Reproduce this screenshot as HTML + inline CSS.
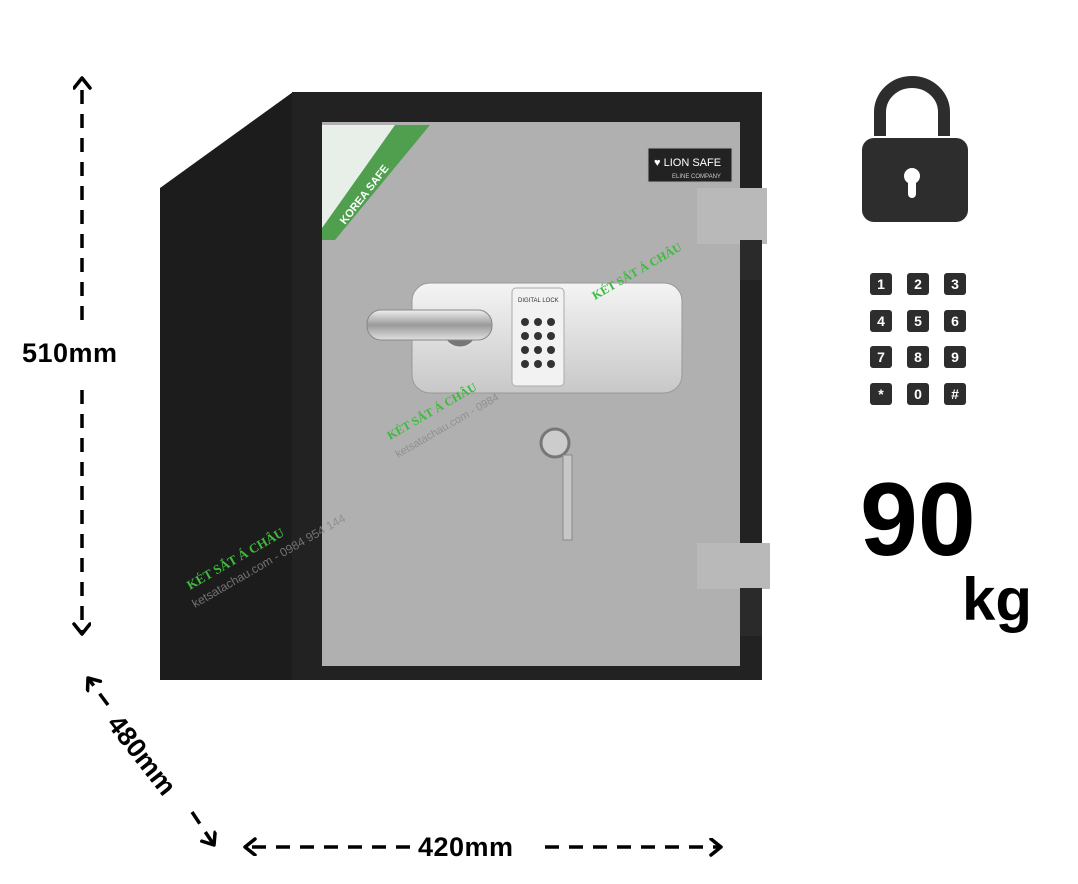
<!DOCTYPE html>
<html><head><meta charset="utf-8"><style>
html,body{margin:0;padding:0;background:#fff;}
svg{display:block;font-family:"Liberation Sans",sans-serif;}
</style></head><body>
<svg width="1078" height="884" viewBox="0 0 1078 884" xmlns="http://www.w3.org/2000/svg">
<defs>
<marker id="ah" markerWidth="20" markerHeight="20" refX="13" refY="9" orient="auto" markerUnits="userSpaceOnUse">
<path d="M3,1 L13,9 L3,17" fill="none" stroke="#000" stroke-width="3.5" stroke-linecap="round" stroke-linejoin="round"/>
</marker>
<linearGradient id="lk" x1="0" y1="0" x2="0" y2="1"><stop offset="0" stop-color="#f4f4f4"/><stop offset="1" stop-color="#c8c8c8"/></linearGradient>
<linearGradient id="hd" x1="0" y1="0" x2="0" y2="1"><stop offset="0" stop-color="#f0f0f0"/><stop offset="0.5" stop-color="#9a9a9a"/><stop offset="1" stop-color="#e0e0e0"/></linearGradient>
</defs>
<polygon points="160,188 293,92 293,680 160,680" fill="#1c1c1c"/>
<rect x="292" y="92" width="470" height="588" fill="#222"/>
<rect x="322" y="122" width="418" height="544" fill="#b0b0b0"/>
<polygon points="322,125 430,125 330,240 322,240" fill="#e8efe8"/>
<polygon points="395,125 430,125 335,240 322,240 322,228" fill="#4f9f4f"/>
<text x="0" y="0" transform="translate(345,225) rotate(-52)" font-size="11" font-weight="bold" fill="#fff">KOREA SAFE</text>
<rect x="648" y="148" width="84" height="34" fill="#222" stroke="#aaa"/>
<text x="654" y="166" font-size="11" fill="#fff">♥ LION SAFE</text>
<text x="672" y="178" font-size="6" fill="#ccc">ELINE COMPANY</text>
<rect x="697" y="188" width="70" height="56" fill="#b9b9b9"/>
<rect x="740" y="240" width="22" height="40" fill="#2a2a2a"/>
<rect x="697" y="543" width="73" height="46" fill="#b9b9b9"/>
<rect x="740" y="588" width="22" height="48" fill="#2a2a2a"/>
<rect x="412" y="283" width="270" height="110" rx="18" fill="url(#lk)" stroke="#999"/>
<rect x="512" y="288" width="52" height="98" rx="4" fill="#f2f2f2" stroke="#aaa"/>
<text x="518" y="302" font-size="6" fill="#333">DIGITAL LOCK</text>
<g fill="#333">
<circle cx="525" cy="322" r="4"/><circle cx="538" cy="322" r="4"/><circle cx="551" cy="322" r="4"/>
<circle cx="525" cy="336" r="4"/><circle cx="538" cy="336" r="4"/><circle cx="551" cy="336" r="4"/>
<circle cx="525" cy="350" r="4"/><circle cx="538" cy="350" r="4"/><circle cx="551" cy="350" r="4"/>
<circle cx="525" cy="364" r="4"/><circle cx="538" cy="364" r="4"/><circle cx="551" cy="364" r="4"/>
</g>
<circle cx="460" cy="330" r="18" fill="#777" stroke="#ddd" stroke-width="3"/>
<rect x="367" y="310" width="125" height="30" rx="14" fill="url(#hd)" stroke="#888"/>
<circle cx="555" cy="443" r="14" fill="#ccc" stroke="#777" stroke-width="3"/>
<rect x="563" y="455" width="9" height="85" fill="#c7c7c7" stroke="#888"/>
<text transform="translate(190,590) rotate(-30)" font-size="13" font-family="Liberation Serif" font-weight="bold" fill="#3dbb3d">KÉT SẮT Á CHÂU</text>
<text transform="translate(195,608) rotate(-30)" font-size="12" fill="#888" opacity="0.8">ketsatachau.com - 0984 954 144</text>
<text transform="translate(390,440) rotate(-30)" font-size="12" font-family="Liberation Serif" font-weight="bold" fill="#3dbb3d">KÉT SẮT Á CHÂU</text>
<text transform="translate(398,458) rotate(-30)" font-size="11" fill="#888" opacity="0.8">ketsatachau.com - 0984</text>
<text transform="translate(595,300) rotate(-30)" font-size="12" font-family="Liberation Serif" font-weight="bold" fill="#3dbb3d">KÉT SẮT Á CHÂU</text>
<path d="M880,136 V112 A32,30 0 0 1 944,112 V136" fill="none" stroke="#2d2d2d" stroke-width="12"/>
<rect x="862" y="138" width="106" height="84" rx="12" fill="#2d2d2d"/>
<circle cx="912" cy="176" r="8" fill="#fff"/>
<rect x="908" y="176" width="8" height="22" rx="4" fill="#fff"/>
<g font-size="14" font-weight="bold" fill="#fff" text-anchor="middle">
<rect x="870" y="273" width="22" height="22" rx="3" fill="#2d2d2d"/><text x="881" y="289">1</text>
<rect x="907" y="273" width="22" height="22" rx="3" fill="#2d2d2d"/><text x="918" y="289">2</text>
<rect x="944" y="273" width="22" height="22" rx="3" fill="#2d2d2d"/><text x="955" y="289">3</text>
<rect x="870" y="310" width="22" height="22" rx="3" fill="#2d2d2d"/><text x="881" y="326">4</text>
<rect x="907" y="310" width="22" height="22" rx="3" fill="#2d2d2d"/><text x="918" y="326">5</text>
<rect x="944" y="310" width="22" height="22" rx="3" fill="#2d2d2d"/><text x="955" y="326">6</text>
<rect x="870" y="346" width="22" height="22" rx="3" fill="#2d2d2d"/><text x="881" y="362">7</text>
<rect x="907" y="346" width="22" height="22" rx="3" fill="#2d2d2d"/><text x="918" y="362">8</text>
<rect x="944" y="346" width="22" height="22" rx="3" fill="#2d2d2d"/><text x="955" y="362">9</text>
<rect x="870" y="383" width="22" height="22" rx="3" fill="#2d2d2d"/><text x="881" y="399">*</text>
<rect x="907" y="383" width="22" height="22" rx="3" fill="#2d2d2d"/><text x="918" y="399">0</text>
<rect x="944" y="383" width="22" height="22" rx="3" fill="#2d2d2d"/><text x="955" y="399">#</text>
</g>
<text x="860" y="555" font-size="104" font-weight="bold" fill="#000">90</text>
<text x="962" y="620" font-size="60" font-weight="bold" fill="#000">kg</text>
<g stroke="#000" stroke-width="3.5" stroke-dasharray="14,10" fill="none">
<line x1="82" y1="320" x2="82" y2="78" marker-end="url(#ah)"/>
<line x1="82" y1="390" x2="82" y2="634" marker-end="url(#ah)"/>
<line x1="410" y1="847" x2="245" y2="847" marker-end="url(#ah)"/>
<line x1="545" y1="847" x2="721" y2="847" marker-end="url(#ah)"/>
<line x1="108" y1="705" x2="88" y2="678" marker-end="url(#ah)"/>
<line x1="192" y1="812" x2="214" y2="845" marker-end="url(#ah)"/>
</g>
<text x="22" y="362" font-size="27" font-weight="bold" fill="#000" letter-spacing="0.5">510mm</text>
<text x="418" y="856" font-size="27" font-weight="bold" fill="#000" letter-spacing="0.5">420mm</text>
<text transform="translate(106,724) rotate(52)" font-size="27" font-weight="bold" fill="#000">480mm</text>
</svg>
</body></html>
